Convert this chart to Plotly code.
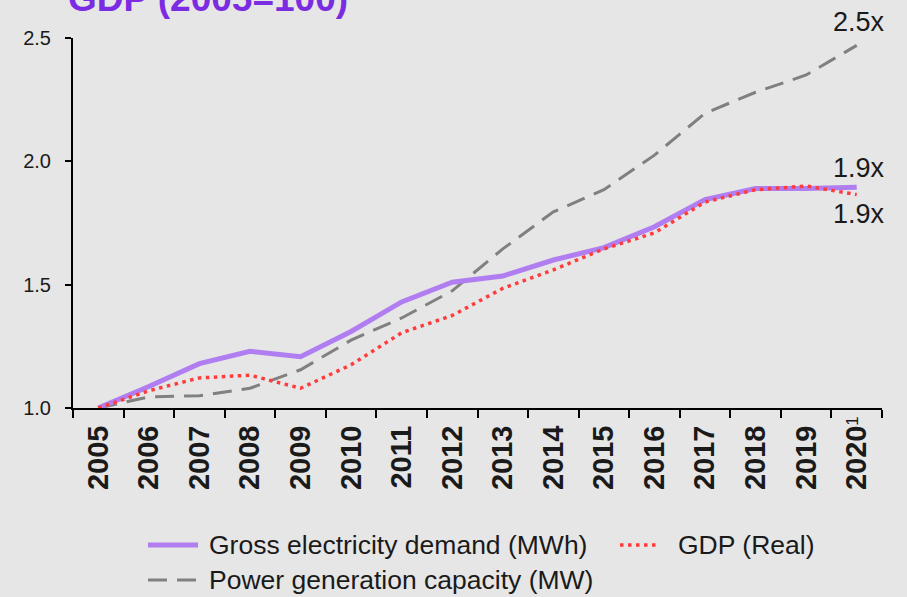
import plotly.graph_objects as go

years = ["2005", "2006", "2007", "2008", "2009", "2010", "2011", "2012",
         "2013", "2014", "2015", "2016", "2017", "2018", "2019", "2020"]
footnote_mark = "1"

demand = [1.00, 1.087, 1.18, 1.23, 1.208, 1.31, 1.43, 1.51,
          1.535, 1.60, 1.65, 1.735, 1.845, 1.89, 1.89, 1.895]
gdp = [1.00, 1.07, 1.122, 1.133, 1.08, 1.175, 1.305, 1.375,
       1.485, 1.56, 1.645, 1.71, 1.835, 1.885, 1.90, 1.865]
capacity = [1.00, 1.045, 1.05, 1.08, 1.155, 1.275, 1.365, 1.475,
            1.645, 1.795, 1.885, 2.025, 2.195, 2.28, 2.35, 2.47]

y_ticks = [1.0, 1.5, 2.0, 2.5]
y_tick_labels = ["1.0", "1.5", "2.0", "2.5"]

series_names = ["Gross electricity demand (MWh)", "GDP (Real)", "Power generation capacity (MW)"]
end_labels = ["1.9x", "1.9x", "2.5x"]
title_text = "GDP (2005=100)"

FONT = "Liberation Sans, Arial, sans-serif"
BG = "#e6e6e6"
TXT = "#1a1a1a"
PURPLE = "#b07ef0"
RED = "#ff3b3b"
GRAY = "#808080"
DOT = "3.5px,4.5px"
DASH = "19px,10px"

fig = go.Figure()
fig.add_trace(go.Scatter(x=years, y=capacity, mode="lines", name=series_names[2],
                         line=dict(color=GRAY, width=3, dash=DASH)))
fig.add_trace(go.Scatter(x=years, y=demand, mode="lines", name=series_names[0],
                         line=dict(color=PURPLE, width=5)))
fig.add_trace(go.Scatter(x=years, y=gdp, mode="lines", name=series_names[1],
                         line=dict(color=RED, width=3.5, dash=DOT)))

# plot area in pixels: x 73..882, y 38..408
L, R, T, B = 73, 882, 38, 408
W, H = R - L, B - T


def px(x):
    return (x - L) / W


def py(y):
    return (B - y) / H


annotations = []
shapes = []
last = len(years) - 1

# end labels
annotations.append(dict(x=last, y=capacity[-1], xref="x", yref="y", text=end_labels[2],
                        showarrow=False, xanchor="center", yanchor="middle", yshift=23, xshift=2,
                        font=dict(family=FONT, size=27, color=TXT)))
annotations.append(dict(x=last, y=demand[-1], xref="x", yref="y", text=end_labels[0],
                        showarrow=False, xanchor="center", yanchor="middle", yshift=19, xshift=2,
                        font=dict(family=FONT, size=27, color=TXT)))
annotations.append(dict(x=last, y=gdp[-1], xref="x", yref="y", text=end_labels[1],
                        showarrow=False, xanchor="center", yanchor="middle", yshift=-19, xshift=2,
                        font=dict(family=FONT, size=27, color=TXT)))

# footnote mark on last tick label
annotations.append(dict(x=last, y=py(421), xref="x", yref="paper", text=footnote_mark,
                        showarrow=False, xanchor="center", yanchor="middle", xshift=-5,
                        textangle=-90, font=dict(family=FONT, size=17, color=TXT)))

# title (cut off at top)
annotations.append(dict(x=px(66), y=py(-2), xref="paper", yref="paper", text="<b>" + title_text + "</b>",
                        showarrow=False, xanchor="left", yanchor="middle",
                        font=dict(family=FONT, size=37, color="#7b2be2")))

# manual legend
leg_items = [
    (series_names[0], PURPLE, 5, "solid", 148, 198, 545, 207),
    (series_names[1], RED, 3.5, DOT, 620, 656, 545, 676),
    (series_names[2], GRAY, 3, DASH, 148, 198, 580, 207),
]
for name, col, w, dash, x0, x1, yy, tx in leg_items:
    shapes.append(dict(type="line", xref="paper", yref="paper", x0=px(x0), x1=px(x1),
                       y0=py(yy), y1=py(yy), line=dict(color=col, width=w, dash=dash)))
    annotations.append(dict(x=px(tx), y=py(yy), xref="paper", yref="paper", text=name,
                            showarrow=False, xanchor="left", yanchor="middle",
                            font=dict(family=FONT, size=26.5, color=TXT)))

fig.update_layout(
    width=907, height=597, autosize=False,
    margin=dict(l=L, r=907 - R, t=T, b=597 - B),
    paper_bgcolor=BG, plot_bgcolor=BG,
    showlegend=False,
    font=dict(family=FONT, color=TXT),
    annotations=annotations, shapes=shapes,
)
fig.update_xaxes(type="category", categoryorder="array", categoryarray=years,
                 range=[-0.5, len(years) - 0.5],
                 tickson="boundaries", ticks="outside", ticklen=8, tickwidth=2, tickcolor="#000",
                 showline=True, linewidth=2, linecolor="#000", showgrid=False, zeroline=False,
                 ticklabelstandoff=4,
                 tickangle=-90, tickfont=dict(family=FONT, size=29, color=TXT, weight="bold"))
fig.update_yaxes(range=[1.0, 2.5], tickmode="array", tickvals=y_ticks, ticktext=y_tick_labels,
                 ticks="outside", ticklen=6, tickwidth=2, tickcolor="#000",
                 showline=True, linewidth=2, linecolor="#000", showgrid=False, zeroline=False,
                 ticklabelstandoff=10,
                 tickfont=dict(family=FONT, size=20, color=TXT))

fig.write_html("out.html", config={"displayModeBar": False},
               post_script="document.body.style.margin='0';document.body.style.background='#e6e6e6';")
